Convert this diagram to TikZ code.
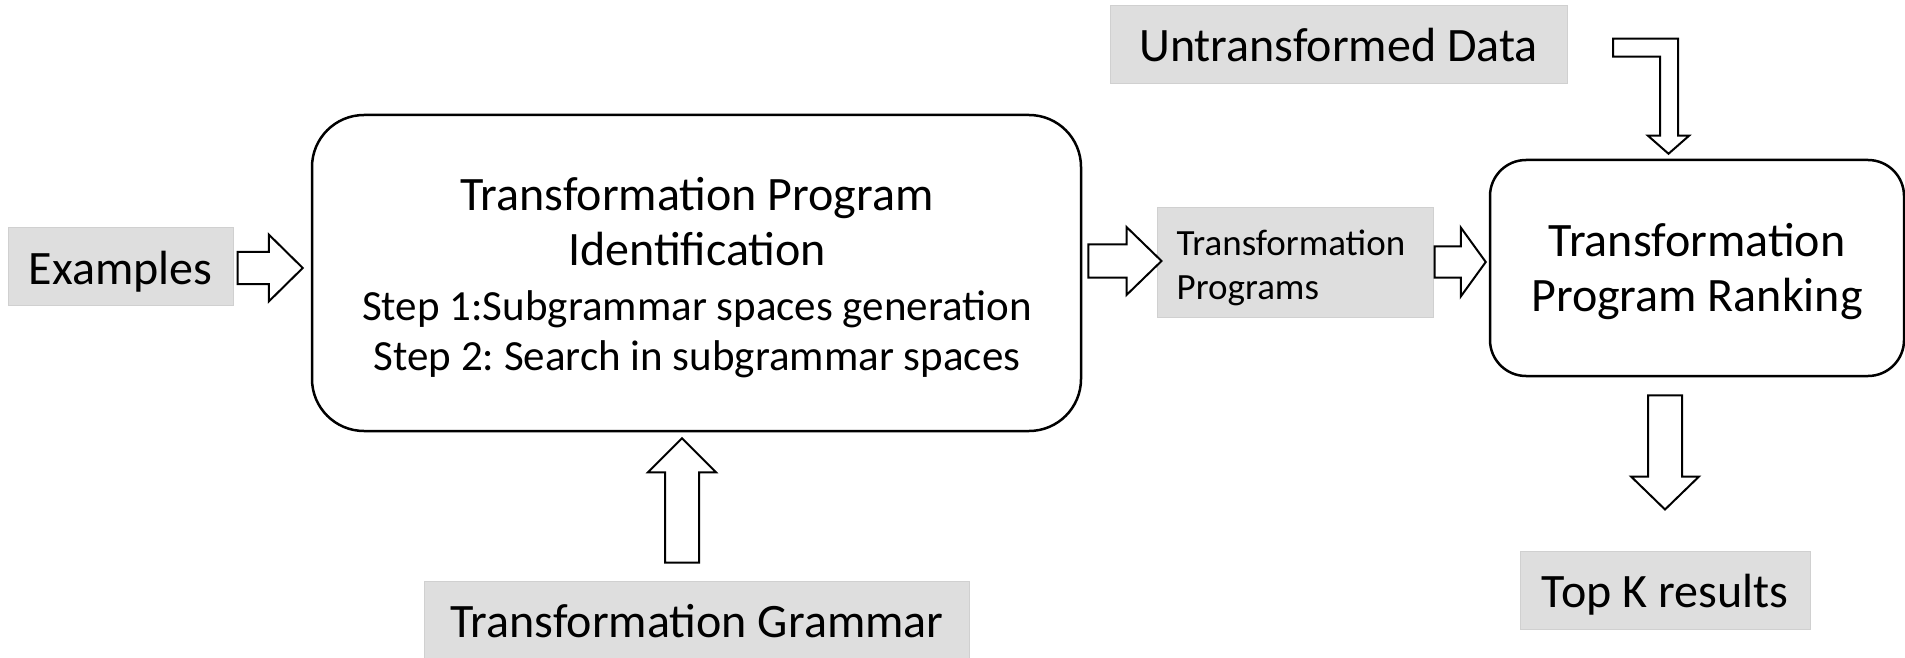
\documentclass[tikz,border=0pt]{standalone}
\usepackage{fontspec}
\setmainfont{Carlito}
\usepackage{tikz}
\usetikzlibrary{calc}
\frenchspacing

\definecolor{boxgray}{RGB}{222,222,222}
\definecolor{boxedge}{RGB}{208,208,208}

% hollow block arrow: tail, tip, shaft half width, head half width, head length
\newcommand{\fatarrow}[5]{%
    \draw[hollow] let \p1=(#1), \p2=(#2),
        \n1={veclen(\x2-\x1,\y2-\y1)}, \n2={atan2(\y2-\y1,\x2-\x1)} in
        [shift={(\p1)}, rotate=\n2]
        (0,#3) -- (\n1-#5,#3) -- (\n1-#5,#4) -- (\n1,0) -- (\n1-#5,-#4) -- (\n1-#5,-#3) -- (0,-#3) -- cycle;
}

\begin{document}
\begin{tikzpicture}[
    x=1pt, y=1pt,
    font=\fontsize{48}{55}\selectfont,
    stage/.style={draw, line width=2.5pt, rounded corners=#1, inner sep=0pt},
    data/.style={draw=boxedge, line width=1pt, fill=boxgray, minimum height=77pt, inner sep=0pt, text height=45pt, text depth=10pt},
    txt/.style={anchor=base, inner sep=0pt},
    hollow/.style={draw, line width=2pt, fill=white, line join=miter}
]
    \useasboundingbox (0,0) rectangle (1905,657);

    % Data boxes
    \node[data, minimum width=225pt] (examples) at (120.5,390.5) {Examples};
    \node[data, minimum width=457pt, minimum height=78pt] (untrans) at (1338.5,612.5) {Untransformed Data};
    \node[data, minimum width=545pt] (grammar) at (697,37) {Transformation Grammar};
    \node[data, minimum width=290pt, minimum height=78pt] (topk) at (1665,67) {Top K results};

    % Identification block
    \node[stage=52pt, minimum width=769pt, minimum height=316pt] (ident) at (696.5,384) {};
    \node[txt] (identA) at ($(ident.north)+(0.5,-97)$) {Transformation Program};
    \node[txt] (identB) at ($(ident.north)+(0.5,-152)$) {Identification};
    \node[txt, font=\fontsize{43}{50}\selectfont] (identC) at ($(ident.north)+(0.5,-207)$) {Step 1:Subgrammar spaces generation};
    \node[txt, font=\fontsize{43}{50}\selectfont] (identD) at ($(ident.north)+(0.5,-257)$) {Step 2: Search in subgrammar spaces};

    % Candidate programs
    \node[data, minimum width=276pt, minimum height=109pt, text height=0pt, text depth=0pt] (progs) at (1295,394.5) {};
    \node[txt, anchor=base west, font=\fontsize{37}{44}\selectfont] (progsA) at ($(progs.west)+(20,6.5)$) {Transformation};
    \node[txt, anchor=base west, font=\fontsize{37}{44}\selectfont] (progsB) at ($(progs.west)+(20,-36.5)$) {Programs};

    % Ranking block
    \node[stage=36pt, minimum width=414pt, minimum height=216pt] (rank) at (1697,389) {};
    \node[txt] (rankA) at ($(rank.north)+(0,-98)$) {Transformation};
    \node[txt] (rankB) at ($(rank.north)+(0,-153)$) {Program Ranking};

    % Block arrows
    \fatarrow{$(examples.east)+(4,-1.5)$}{$(ident.west)+(-8,5)$}{16}{33.5}{34}
    \fatarrow{$(ident.east)+(6,12)$}{$(progs.west)+(5,1.5)$}{16.5}{34}{35}
    \fatarrow{$(progs.east)+(1,0.5)$}{$(rank.west)+(-3,6)$}{15.5}{34.5}{25}
    \fatarrow{$(grammar.north)+(-15,18.5)$}{$(ident.south)+(-14.5,-6)$}{17}{34}{34}
    \fatarrow{$(rank.south)+(-32,-18)$}{$(topk.north)+(0,41)$}{17}{34}{33}

    % Bent arrow into the ranking block
    \coordinate (bendtip) at ($(rank.north)+(-28.5,5)$);
    \draw[hollow] (bendtip) -- ++(20.5,18) -- ++(-11,0) -- ++(0,97) -- ++(-65,0)
        -- ++(0,-18) -- ++(47,0) -- ++(0,-79) -- ++(-12,0) -- cycle;

\end{tikzpicture}
\end{document}
